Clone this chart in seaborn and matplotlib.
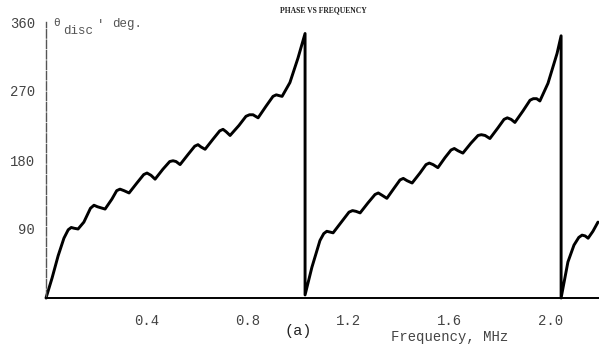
import numpy as np
import pandas as pd
import matplotlib
matplotlib.use("Agg")
import matplotlib.pyplot as plt
import seaborn as sns

# Values (frequency in MHz, phase in degrees)
freq_seg1 = [0.000, 0.024, 0.048, 0.071, 0.088, 0.100, 0.111, 0.127, 0.150, 0.176, 0.190, 0.204,
             0.234, 0.261, 0.280, 0.293, 0.309, 0.329, 0.360, 0.387, 0.400, 0.416, 0.432, 0.463,
             0.490, 0.503, 0.515, 0.531, 0.562, 0.589, 0.602, 0.614, 0.630, 0.661, 0.688, 0.701,
             0.713, 0.729, 0.764, 0.792, 0.806, 0.820, 0.840, 0.871, 0.899, 0.912, 0.923, 0.935,
             0.966, 0.998, 1.026]
phase_seg1 = [0, 26, 55, 78, 89, 92, 91, 90, 99, 117, 121, 119,
              116, 129, 140, 142, 140, 137, 150, 161, 163, 160, 155, 168,
              178, 179, 178, 174, 187, 198, 200, 197, 194, 207, 218, 220,
              217, 212, 225, 237, 239, 239, 235, 250, 263, 265, 264, 263,
              281, 313, 345]

freq_seg2 = [1.026, 1.053, 1.085, 1.100, 1.112, 1.125, 1.137, 1.172, 1.200, 1.214, 1.228, 1.244,
             1.275, 1.303, 1.316, 1.331, 1.350, 1.378, 1.402, 1.415, 1.430, 1.450, 1.481, 1.505,
             1.518, 1.533, 1.552, 1.580, 1.604, 1.617, 1.632, 1.651, 1.683, 1.711, 1.724, 1.739,
             1.758, 1.790, 1.814, 1.827, 1.842, 1.857, 1.889, 1.917, 1.930, 1.943, 1.956, 1.988,
             2.024, 2.040]
phase_seg2 = [4, 40, 75, 84, 87, 86, 85, 100, 112, 114, 113, 111,
              124, 135, 137, 134, 130, 143, 154, 156, 153, 150, 163, 174,
              176, 174, 170, 183, 193, 195, 192, 189, 202, 212, 213, 212,
              208, 222, 233, 235, 233, 229, 244, 258, 260, 260, 257, 280,
              319, 342]

freq_seg3 = [2.040, 2.067, 2.091, 2.110, 2.123, 2.135, 2.147, 2.166, 2.186]
phase_seg3 = [0, 47, 69, 79, 82, 81, 78, 87, 99]

x_ticks = [0.4, 0.8, 1.2, 1.6, 2.0]
x_tick_labels = ["0.4", "0.8", "1.2", "1.6", "2.0"]
y_ticks = [90, 180, 270, 360]
y_tick_labels = ["90", "180", "270", "360"]

df = pd.DataFrame({
    "freq": freq_seg1 + freq_seg2 + freq_seg3,
    "phase": phase_seg1 + phase_seg2 + phase_seg3,
})

sns.set_style("white")
plt.rcParams["font.family"] = ["Liberation Mono", "DejaVu Sans Mono"]

W, H = 599, 354
fig = plt.figure(figsize=(W / 100, H / 100), dpi=100)
ax = fig.add_axes([46 / W, (H - 298) / H, 1 - 46 / W, (298 - 22) / H])

sns.lineplot(data=df, x="freq", y="phase", sort=False, estimator=None,
             color="black", linewidth=2.1, ax=ax)
for ln in ax.lines:
    ln.set_clip_on(False)
    ln.set_solid_joinstyle("round")
    ln.set_solid_capstyle("round")

ax.set_xlim(0, (W - 46) / 252.5)
ax.set_ylim(0, 360)
ax.set_xticks(x_ticks)
ax.set_xticklabels(x_tick_labels)
ax.set_yticks(y_ticks)
ax.set_yticklabels(y_tick_labels)
ax.set_xlabel("")
ax.set_ylabel("")

for s in ["top", "right"]:
    ax.spines[s].set_visible(False)
ax.spines["left"].set_color("#555555")
ax.spines["left"].set_linewidth(1.0)
ax.spines["left"].set_linestyle((0, (6, 1.5)))
ax.spines["bottom"].set_color("black")
ax.spines["bottom"].set_linewidth(1.4)

ax.tick_params(axis="x", direction="inout", length=5, width=0.9, color="#333333",
               pad=9, labelsize=10, labelcolor="#444444")
ax.tick_params(axis="y", direction="out", length=6, width=0.9, color="#333333",
               pad=2, labelsize=10, labelcolor="#444444")

def fx(px):
    return px / W

def fy(py):
    return 1 - py / H

fig.text(fx(323), fy(10), "PHASE VS FREQUENCY", ha="center", va="center",
         fontsize=5.5, fontweight="bold", family=["Liberation Serif", "DejaVu Serif"],
         color="#222222")
fig.text(fx(53), fy(23), "θ", ha="left", va="center", fontsize=8, color="#555555",
         family=["DejaVu Sans Mono"])
fig.text(fx(63), fy(31), "disc", ha="left", va="center", fontsize=9, color="#555555")
fig.text(fx(97), fy(25), "'", ha="left", va="center", fontsize=9, color="#555555")
fig.text(fx(112), fy(24), "deg.", ha="left", va="center", fontsize=9, color="#555555")
fig.text(fx(298), fy(331), "(a)", ha="center", va="center", fontsize=11, color="#222222")
fig.text(fx(450), fy(337), "Frequency, MHz", ha="center", va="center", fontsize=10,
         color="#444444")

fig.savefig("out.png", dpi=100)
